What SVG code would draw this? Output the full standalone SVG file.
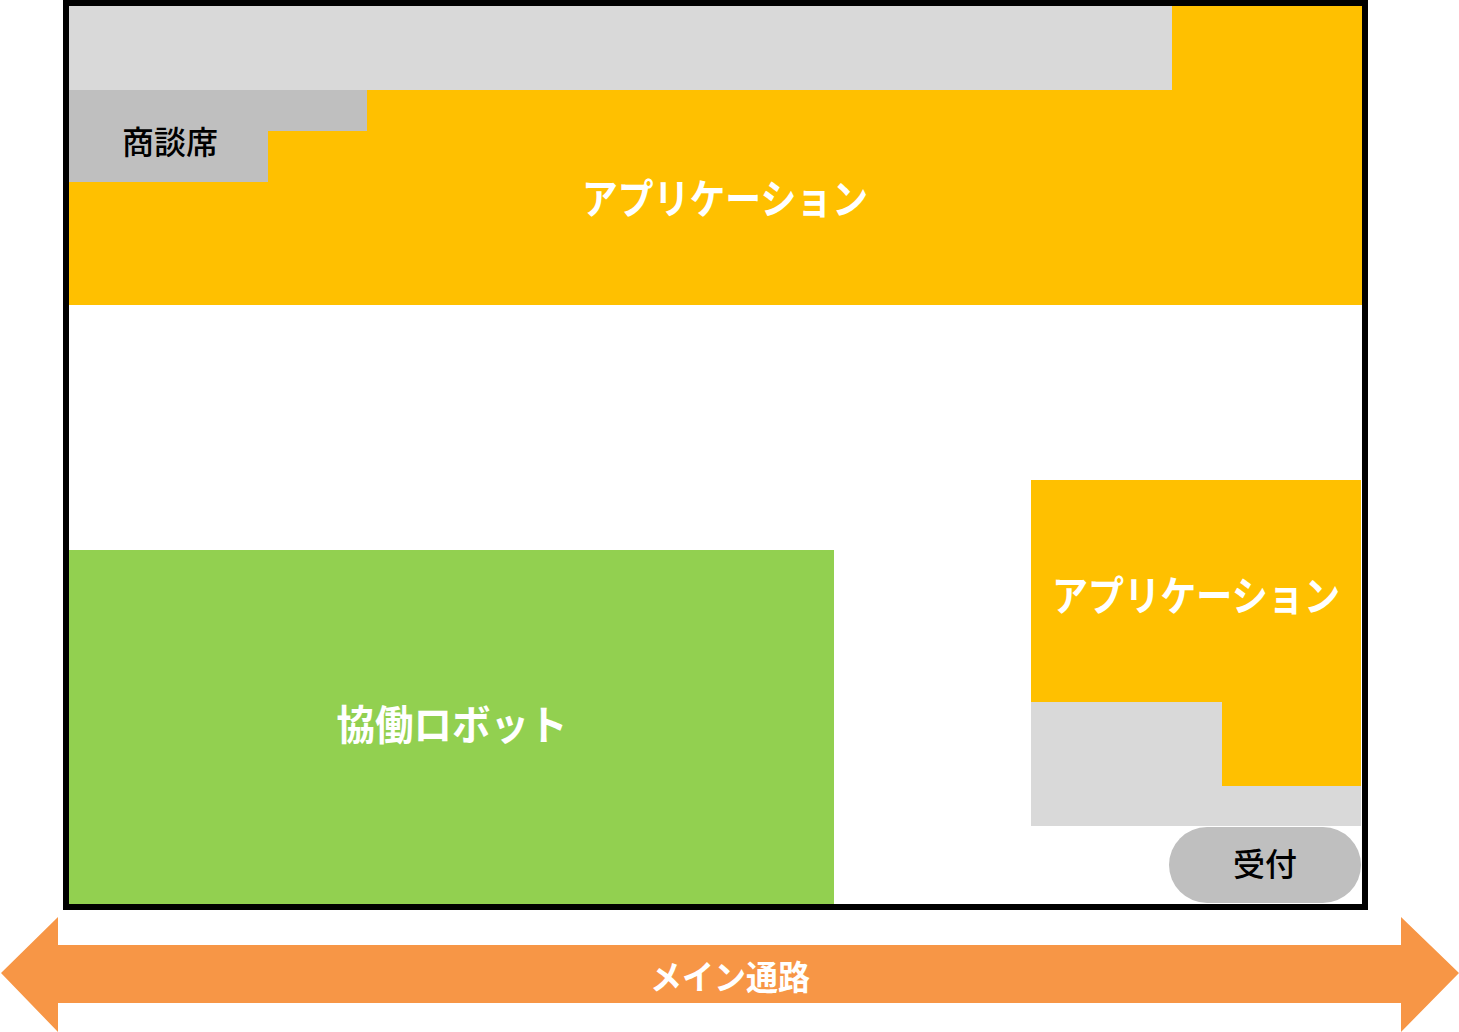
<svg xmlns="http://www.w3.org/2000/svg" width="1459" height="1032" viewBox="0 0 1459 1032">
<style>
.t{font-family:"Noto Sans CJK JP","Noto Sans",sans-serif;font-weight:bold;text-anchor:middle;dominant-baseline:central}
.w{fill:#FFFFFF}
.k{fill:#000000;font-weight:500}
.y{fill:#FFC000}
.lg{fill:#D9D9D9}
.dg{fill:#BFBFBF}
</style>
<rect x="0" y="0" width="1459" height="1032" fill="#FFFFFF"/>
<g id="app-top">
<rect class="y" x="69" y="6" width="1293" height="299"/>
<rect class="lg" x="69" y="6" width="1103" height="84"/>
<text class="t w" x="725" y="196" font-size="41" textLength="286" lengthAdjust="spacingAndGlyphs">アプリケーション</text>
</g>
<g id="shodanseki">
<polygon class="dg" points="69,90 367,90 367,131 268,131 268,182 69,182"/>
<text class="t k" x="170" y="140" font-size="32">商談席</text>
</g>
<g id="robot">
<rect x="69" y="550" width="765" height="354" fill="#92D050"/>
<text class="t w" x="452" y="722" font-size="41" textLength="231" lengthAdjust="spacingAndGlyphs">協働ロボット</text>
</g>
<g id="app-right">
<rect class="y" x="1031" y="480" width="330" height="306"/>
<polygon class="lg" points="1031,702 1222,702 1222,786 1361,786 1361,826 1031,826"/>
<text class="t w" x="1196" y="593" font-size="41" textLength="288" lengthAdjust="spacingAndGlyphs">アプリケーション</text>
</g>
<g id="uketsuke">
<rect class="dg" x="1169" y="827" width="192" height="76" rx="38" ry="38"/>
<text class="t k" x="1265" y="862" font-size="32">受付</text>
</g>
<g id="frame">
<rect x="66" y="3" width="1299" height="904" fill="none" stroke="#000000" stroke-width="6"/>
</g>
<g id="connectors">
<polygon fill="#F79646" points="1,973 58,917 58,945 1401,945 1401,917 1459,973 1401,1032 1401,1003 58,1003 58,1032"/>
<text class="t w" x="730" y="975" font-size="34" textLength="160" lengthAdjust="spacingAndGlyphs">メイン通路</text>
</g>
</svg>
